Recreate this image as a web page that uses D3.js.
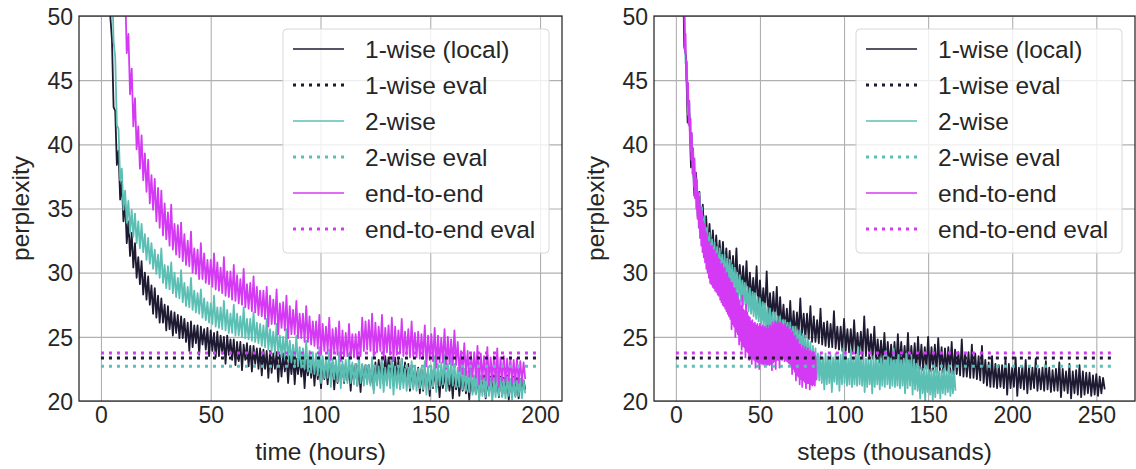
<!DOCTYPE html>
<html>
<head>
<meta charset="utf-8">
<script src="https://cdn.jsdelivr.net/npm/d3@7"></script>
<style>
    body { margin: 0; background: #fff; }
    svg text { font-family: "Liberation Sans", Arial, sans-serif; fill: #262626; }
</style>
</head>
<body>
<div id="chart"></div>
<script>
// ---- data ----
// The training curves are very noisy, so each one is kept as the upper and lower
// edge of its band, read every `step` units; the line runs high -> low -> high ...

// left panel: perplexity vs time (hours), first sample at 2h, every 1.5h
const timeStart = 2, timeStep = 1.5;
const time1wiseHigh = [
    76, 58, 48.2, 42.6, 39.5, 37.1, 35.6, 34.0,
    33.1, 32.3, 31.2, 30.9, 30.0, 29.7, 29.0, 28.8,
    28.2, 28.0, 27.5, 27.4, 27.0, 26.9, 26.7, 26.6,
    26.4, 26.1, 26.2, 25.9, 25.9, 25.8, 25.6, 25.7,
    25.5, 25.3, 25.4, 25.1, 25.0, 25.1, 24.8, 24.8,
    24.6, 24.6, 24.4, 24.5, 24.3, 24.3, 24.1, 24.1,
    24.0, 23.9, 23.9, 23.7, 23.8, 23.6, 23.7, 23.5,
    23.5, 23.6, 23.3, 23.4, 23.3, 23.2, 23.3, 23.2,
    23.1, 23.0, 23.2, 22.9, 23.0, 23.0, 22.8, 22.9,
    22.8, 22.9, 22.7, 22.8, 22.9, 22.7, 22.8, 22.8,
    22.8, 22.9, 23.0, 23.2, 23.4, 23.5, 23.4, 23.4,
    23.4, 23.2, 23.3, 23.0, 22.9, 22.8, 22.7, 22.6,
    22.5, 22.6, 22.3, 22.4, 22.5, 22.2, 22.3, 22.3,
    22.2, 22.1, 22.3, 22.0, 22.1, 22.0, 21.9, 22.1,
    21.9, 22.0, 21.9, 22.0, 21.8, 21.9, 22.0, 21.8,
    21.9, 21.8, 22.0, 21.7, 21.9, 21.8, 21.7, 21.6
];
const time1wiseLow = [
    65, 50, 42.9, 38.4, 35.7, 34.0, 32.3, 31.3,
    30.4, 29.6, 29.1, 28.3, 27.9, 27.5, 26.8, 26.5,
    26.1, 26.1, 25.5, 25.6, 25.1, 25.3, 24.9, 24.9,
    24.6, 23.9, 24.2, 24.5, 23.6, 24.4, 24.0, 23.5,
    23.9, 23.4, 23.5, 23.7, 22.9, 23.6, 23.2, 22.8,
    23.1, 22.4, 23.2, 22.7, 22.3, 22.9, 22.5, 22.0,
    22.5, 21.8, 22.2, 22.5, 21.5, 21.9, 22.3, 21.4,
    22.1, 21.3, 22.1, 21.9, 21.0, 22.0, 21.8, 21.2,
    21.7, 21.0, 21.7, 21.3, 21.6, 20.9, 21.4, 21.5,
    21.4, 21.6, 20.8, 21.5, 21.2, 20.7, 21.4, 21.5,
    21.4, 20.9, 21.5, 21.7, 21.3, 21.9, 22.0, 21.2,
    21.8, 21.0, 21.5, 21.6, 20.8, 21.1, 21.3, 20.6,
    20.8, 21.2, 20.4, 21.0, 21.0, 20.3, 21.0, 20.8,
    20.8, 20.2, 20.9, 20.4, 20.8, 20.6, 20.1, 20.7,
    20.6, 20.3, 20.7, 20.2, 20.6, 20.4, 20.7, 20.3,
    20.4, 20.6, 20.1, 20.5, 20.4, 20.2, 20.7, 20.9
];
const time2wiseHigh = [
    86, 65, 54.1, 46.8, 41.2, 38.1, 36.4, 35.6,
    34.9, 34.6, 34.0, 33.8, 33.0, 32.7, 32.3, 31.8,
    31.4, 31.9, 30.6, 30.5, 30.8, 30.0, 29.6, 30.2,
    29.2, 28.9, 29.6, 28.6, 28.4, 28.7, 28.0, 27.7,
    27.6, 28.2, 27.3, 27.3, 27.8, 27.1, 26.8, 27.5,
    26.8, 26.6, 27.3, 26.4, 26.4, 26.9, 26.1, 26.0,
    25.9, 26.4, 25.6, 25.4, 26.0, 25.1, 25.0, 25.6,
    24.7, 24.4, 25.1, 24.2, 24.1, 24.7, 23.9, 23.8,
    23.7, 24.2, 23.5, 23.4, 24.0, 23.3, 23.2, 23.8,
    23.1, 23.2, 23.7, 23.0, 22.9, 23.6, 22.9, 22.8,
    22.8, 23.4, 22.6, 22.7, 23.3, 22.6, 22.8, 23.2,
    22.7, 22.6, 23.3, 22.5, 22.6, 23.1, 22.7, 22.5,
    22.6, 23.1, 22.7, 22.7, 23.5, 22.9, 23.0, 23.6,
    22.9, 23.4, 22.9, 22.6, 23.2, 22.5, 22.3, 22.8,
    22.0, 22.5, 22.0, 21.8, 22.4, 21.8, 21.8, 22.3,
    21.8, 21.7, 21.9, 21.7, 21.8, 21.6, 21.7, 21.6
];
const time2wiseLow = [
    71, 57, 48.0, 41.5, 37.2, 34.9, 33.9, 33.1,
    32.8, 32.3, 31.9, 31.6, 31.0, 30.7, 30.3, 29.9,
    29.6, 29.2, 28.8, 28.7, 28.4, 28.1, 28.0, 27.7,
    27.4, 27.3, 27.1, 26.9, 26.8, 26.5, 26.3, 26.1,
    26.0, 25.8, 25.7, 25.6, 25.5, 25.3, 25.3, 25.1,
    25.1, 25.0, 24.9, 24.8, 24.7, 24.6, 24.5, 24.3,
    24.2, 24.0, 23.9, 23.7, 23.6, 23.4, 23.3, 23.1,
    23.0, 22.9, 22.7, 22.6, 22.5, 22.3, 22.2, 22.1,
    22.0, 21.4, 21.8, 21.8, 21.1, 21.7, 21.5, 21.0,
    21.5, 21.4, 21.4, 21.3, 21.2, 21.4, 21.2, 21.3,
    21.2, 20.6, 21.2, 21.0, 20.7, 21.2, 21.0, 20.5,
    21.0, 20.9, 21.0, 20.8, 21.0, 20.9, 20.8, 21.0,
    20.9, 20.5, 20.9, 21.1, 20.7, 21.2, 21.3, 20.8,
    21.3, 21.2, 21.1, 21.1, 20.9, 20.8, 20.7, 20.5,
    20.5, 20.0, 20.4, 20.3, 20.4, 19.9, 20.3, 20.4,
    20.3, 20.2, 20.4, 20.1, 20.3, 20.4, 20.2, 20.6
];
const timeE2EHigh = [
    111, 91, 76, 66.5, 59.5, 54.8, 52.2, 48.6,
    45.9, 43.6, 41.4, 40.7, 39.3, 38.8, 37.6, 37.3,
    36.6, 36.4, 35.4, 34.7, 35.3, 33.8, 33.7, 33.9,
    33.0, 32.5, 33.2, 31.9, 31.8, 32.3, 31.5, 31.0,
    31.0, 31.5, 30.8, 30.4, 31.2, 30.1, 30.1, 30.6,
    29.8, 29.5, 30.3, 29.1, 29.2, 29.7, 28.9, 28.6,
    28.6, 28.9, 28.2, 27.9, 28.7, 27.6, 27.7, 28.2,
    27.4, 27.1, 27.8, 26.8, 26.8, 27.4, 26.6, 26.2,
    26.2, 26.7, 26.0, 25.8, 26.5, 25.6, 25.7, 26.2,
    25.5, 25.3, 26.0, 25.2, 25.2, 25.4, 26.5, 26.2,
    26.3, 26.8, 26.1, 25.8, 26.7, 25.7, 25.9, 26.5,
    25.8, 25.5, 26.4, 25.4, 25.6, 26.2, 25.3, 25.4,
    25.2, 25.9, 25.1, 25.2, 25.7, 25.1, 24.9, 25.6,
    25.0, 24.8, 25.5, 24.6, 23.9, 24.5, 23.9, 23.7,
    23.8, 24.3, 23.7, 23.5, 24.2, 23.4, 23.5, 24.1,
    23.4, 23.5, 23.3, 23.4, 23.2, 23.3, 23.1, 23.0
];
const timeE2ELow = [
    99, 80.5, 68.6, 59.6, 53.9, 50.2, 47.1, 43.9,
    41.4, 39.6, 38.1, 37.2, 36.3, 35.4, 34.9, 34.0,
    33.5, 32.9, 32.6, 32.1, 31.8, 31.4, 31.2, 30.9,
    30.6, 30.5, 30.0, 29.9, 29.5, 29.5, 29.2, 29.1,
    28.9, 28.7, 28.6, 28.4, 28.2, 28.1, 27.9, 27.8,
    27.6, 27.5, 27.3, 27.2, 27.0, 26.9, 26.7, 26.6,
    26.4, 25.8, 26.0, 26.0, 25.2, 25.7, 25.5, 24.9,
    25.2, 25.2, 24.9, 24.9, 24.6, 24.6, 24.4, 24.3,
    24.1, 23.6, 23.9, 23.9, 23.2, 23.8, 23.6, 23.1,
    23.5, 23.5, 23.4, 23.4, 23.3, 23.5, 23.9, 24.0,
    23.9, 23.4, 23.8, 23.9, 23.2, 23.8, 23.6, 23.1,
    23.6, 23.7, 23.5, 23.6, 23.4, 23.5, 23.4, 23.3,
    23.3, 22.7, 23.2, 23.1, 22.6, 23.0, 23.0, 22.5,
    22.9, 22.8, 22.8, 22.3, 22.1, 22.0, 21.9, 21.9,
    21.8, 21.3, 21.7, 21.6, 21.2, 21.6, 21.5, 21.1,
    21.6, 21.5, 21.6, 21.4, 21.5, 21.4, 21.5, 21.7
];

// right panel: perplexity vs steps (thousands)
const steps1wiseStart = 2, steps1wiseStep = 2;
const steps1wiseHigh = [
    81, 55.4, 46.9, 42.4, 39.6, 37.8, 36.3, 35.3,
    34.4, 33.8, 33.3, 32.9, 32.5, 32.4, 31.9, 31.7,
    31.3, 31.9, 30.6, 30.5, 30.9, 30.0, 29.6, 30.5,
    29.4, 28.8, 30.1, 28.4, 28.5, 28.9, 28.1, 27.5,
    27.2, 27.8, 27.0, 26.9, 28.0, 26.8, 26.8, 27.4,
    26.6, 26.3, 27.2, 26.1, 26.2, 26.0, 27.0, 25.8,
    25.8, 26.4, 25.6, 25.6, 26.3, 25.3, 25.4, 26.6,
    25.6, 25.2, 25.8, 24.8, 24.7, 25.3, 24.6, 24.4,
    24.6, 25.2, 24.6, 24.3, 25.3, 24.3, 24.5, 25.0,
    24.4, 24.2, 25.0, 24.2, 24.4, 24.9, 24.2, 24.1,
    24.2, 24.6, 24.0, 23.8, 24.8, 23.7, 23.8, 24.4,
    23.7, 23.5, 24.3, 23.2, 23.0, 23.5, 22.9, 22.8,
    22.8, 23.3, 22.9, 22.6, 23.4, 22.6, 22.7, 23.2,
    22.7, 22.6, 23.3, 22.5, 22.6, 23.1, 22.6, 22.4,
    22.5, 23.0, 22.5, 22.3, 22.9, 22.3, 22.4, 22.8,
    22.3, 22.2, 22.2, 22.0, 22.1, 21.9, 21.8
];
const steps1wiseLow = [
    60.5, 47.6, 41.7, 38.2, 36.0, 34.4, 33.3, 32.4,
    31.9, 31.4, 30.9, 30.6, 30.3, 29.9, 29.7, 29.4,
    29.1, 28.8, 28.6, 28.3, 28.0, 27.8, 27.6, 27.3,
    27.1, 26.9, 26.6, 26.4, 26.2, 25.9, 25.8, 25.5,
    25.2, 25.0, 25.1, 25.2, 25.1, 24.9, 24.8, 24.6,
    24.6, 24.5, 24.4, 24.3, 24.2, 24.2, 24.1, 24.0,
    23.9, 23.9, 23.8, 23.7, 23.7, 23.6, 23.5, 23.5,
    23.5, 23.3, 23.1, 23.0, 22.9, 22.8, 22.8, 22.7,
    22.6, 22.7, 22.5, 22.6, 22.4, 22.6, 22.4, 22.5,
    22.4, 22.5, 22.3, 22.4, 22.2, 22.4, 22.2, 22.3,
    22.2, 22.1, 22.1, 22.0, 21.9, 21.9, 21.8, 21.8,
    21.7, 21.6, 21.4, 21.2, 21.1, 21.1, 21.0, 21.1,
    21.0, 20.5, 21.0, 21.1, 20.4, 21.0, 20.9, 20.6,
    20.9, 21.0, 20.8, 20.9, 20.8, 20.9, 20.7, 20.8,
    20.8, 20.3, 20.8, 20.6, 20.2, 20.6, 20.5, 20.3,
    20.5, 20.6, 20.4, 20.5, 20.4, 20.6, 20.9
];
const steps2wiseStart = 2, steps2wiseStep = 1.5;
const steps2wiseHigh = [
    86, 62.2, 51.7, 46.5, 43.2, 40.8, 38.9, 37.3,
    36.2, 35.1, 34.4, 33.5, 33.1, 32.6, 32.4, 32.0,
    31.9, 31.4, 31.4, 31.1, 31.0, 30.6, 30.4, 30.0,
    29.8, 29.4, 29.2, 28.9, 28.8, 28.5, 28.4, 28.1,
    28.0, 27.7, 27.6, 27.3, 27.2, 26.9, 26.9, 26.6,
    26.6, 26.3, 26.3, 26.1, 26.1, 25.8, 25.8, 25.5,
    25.5, 25.2, 25.1, 24.8, 24.6, 24.3, 24.1, 23.7,
    23.6, 23.4, 23.7, 23.5, 23.6, 23.4, 23.7, 23.5,
    23.6, 24.1, 23.6, 23.3, 24.0, 23.4, 23.6, 24.2,
    23.4, 23.5, 23.3, 23.4, 23.2, 23.5, 23.3, 23.4,
    23.3, 23.5, 23.9, 23.4, 23.3, 24.1, 23.2, 23.6,
    23.5, 23.3, 23.7, 23.4, 23.6, 23.2, 22.9, 22.7,
    22.6, 22.5, 22.6, 22.4, 22.5, 22.4, 22.6, 22.3,
    22.4, 22.5, 22.3, 22.5, 22.4, 22.3
];
const steps2wiseLow = [
    68.8, 53.9, 46.3, 42.3, 39.5, 37.5, 35.8, 34.5,
    33.7, 32.9, 32.0, 31.4, 30.9, 30.6, 30.2, 30.0,
    29.8, 29.6, 29.3, 29.2, 28.9, 28.7, 28.3, 28.1,
    27.8, 27.5, 27.2, 27.0, 26.8, 26.6, 26.4, 26.2,
    26.0, 25.8, 25.6, 25.4, 25.2, 25.0, 24.8, 24.7,
    24.5, 24.4, 24.3, 24.2, 24.0, 23.9, 23.7, 23.6,
    23.4, 23.2, 22.9, 22.6, 22.3, 22.0, 21.7, 21.6,
    21.4, 20.9, 21.3, 21.4, 20.7, 21.5, 21.3, 20.8,
    21.3, 21.4, 21.2, 21.3, 21.1, 21.3, 21.2, 21.3,
    21.2, 20.7, 21.1, 21.3, 20.6, 21.1, 21.3, 20.9,
    21.2, 21.1, 21.3, 21.0, 21.2, 21.1, 21.2, 21.0,
    21.2, 20.6, 21.0, 21.2, 20.5, 20.9, 20.8, 20.2,
    20.6, 20.0, 20.7, 20.5, 20.1, 20.3, 20.6, 20.2,
    20.6, 20.5, 20.7, 20.4, 20.6, 20.8
];
const stepsE2EStart = 2, stepsE2EStep = 0.75;
const stepsE2EHigh = [
    86, 71, 61.3, 55.2, 51.2, 48.6, 46.4, 44.8,
    43.4, 42.0, 40.9, 39.7, 38.9, 37.8, 37.2, 36.3,
    35.9, 35.1, 34.8, 34.0, 33.8, 33.2, 33.0, 32.4,
    32.4, 32.0, 32.1, 31.7, 31.8, 31.4, 31.5, 31.1,
    31.0, 30.6, 30.7, 30.3, 30.4, 29.9, 30.0, 29.6,
    29.5, 29.2, 29.2, 28.8, 28.8, 28.4, 28.4, 28.0,
    27.8, 27.4, 28.2, 27.1, 27.0, 27.5, 26.9, 26.6,
    26.5, 26.2, 26.3, 26.0, 26.1, 25.9, 26.0, 25.8,
    26.0, 25.8, 25.9, 25.7, 25.8, 25.6, 25.9, 25.6,
    25.9, 25.8, 26.1, 25.9, 26.2, 26.0, 26.2, 26.0,
    26.1, 25.9, 26.0, 25.8, 26.0, 25.7, 25.8, 25.5,
    25.6, 25.3, 25.4, 25.0, 25.1, 24.7, 24.8, 24.4,
    24.4, 24.1, 24.3, 24.0, 24.2, 23.9, 24.1, 23.8,
    23.9, 23.7, 23.8, 23.6, 23.5
];
const stepsE2ELow = [
    74.8, 63.3, 55.3, 50.7, 47.3, 45.0, 43.1, 41.5,
    40.0, 38.8, 37.7, 36.7, 35.8, 35.0, 34.2, 33.5,
    32.7, 32.1, 31.6, 31.2, 30.8, 30.3, 30.0, 29.6,
    29.2, 29.1, 28.9, 28.8, 28.6, 28.5, 28.3, 28.2,
    27.9, 27.7, 27.5, 27.4, 27.2, 27.0, 26.8, 26.6,
    26.4, 25.6, 26.0, 25.8, 25.0, 25.4, 25.2, 24.4,
    24.7, 24.0, 24.3, 24.2, 23.4, 23.9, 23.8, 23.2,
    23.5, 22.9, 23.3, 23.2, 22.6, 23.1, 23.0, 22.5,
    23.0, 22.9, 22.9, 22.8, 22.9, 22.8, 22.9, 22.8,
    22.9, 22.4, 23.0, 23.1, 22.5, 23.2, 23.2, 22.6,
    23.3, 23.2, 23.3, 23.1, 23.2, 23.1, 23.0, 22.9,
    22.7, 22.1, 22.5, 22.3, 21.6, 22.0, 21.9, 21.3,
    21.7, 21.1, 21.6, 21.5, 21.0, 21.4, 21.4, 20.9,
    21.3, 21.2, 21.3, 21.2, 21.6
];

// eval perplexities (horizontal dotted lines): 1-wise, 2-wise, end-to-end
const evalValues = [23.35, 22.7, 23.75];
const timeEvalEnd = 200, stepsEvalEnd = 260;

const legendLabels = ["1-wise (local)", "1-wise eval", "2-wise", "2-wise eval", "end-to-end", "end-to-end eval"];
const seriesColors = ["#1e1a32", "#5bbfb4", "#d43af3"];
const yTicks = [20, 25, 30, 35, 40, 45, 50];
const timeTicks = [0, 50, 100, 150, 200];
const stepTicks = [0, 50, 100, 150, 200, 250];


class PerplexityPanel {
    constructor(_svg, _opts) {
        this.svg = _svg;
        this.opts = _opts;
        this.initVis();
    }

    initVis() {
        let vis = this;
        let o = vis.opts;
        vis.top = 16;
        vis.bottom = 401;

        vis.x = d3.scaleLinear().domain(o.xDomain).range([o.left, o.right]);
        vis.y = d3.scaleLinear().domain([20, 50]).range([vis.bottom, vis.top]);

        vis.g = vis.svg.append("g");

        vis.g.append("clipPath").attr("id", o.id + "-clip")
            .append("rect")
            .attr("x", o.left).attr("y", vis.top)
            .attr("width", o.right - o.left).attr("height", vis.bottom - vis.top);

        // grid + tick labels
        let xAxis = d3.axisBottom(vis.x).tickValues(o.xTicks)
            .tickSize(-(vis.bottom - vis.top)).tickPadding(6);
        vis.g.append("g")
            .attr("transform", "translate(0," + vis.bottom + ")")
            .call(xAxis)
            .call(g => g.select(".domain").remove())
            .call(g => g.selectAll("line").attr("stroke", "#b0b0b0").attr("stroke-width", 1.1))
            .call(g => g.selectAll("text").style("font-size", "23px").attr("fill", "#262626"));

        let yAxis = d3.axisLeft(vis.y).tickValues(yTicks)
            .tickSize(-(o.right - o.left)).tickPadding(6);
        vis.g.append("g")
            .attr("transform", "translate(" + o.left + ",0)")
            .call(yAxis)
            .call(g => g.select(".domain").remove())
            .call(g => g.selectAll("line").attr("stroke", "#b0b0b0").attr("stroke-width", 1.1))
            .call(g => g.selectAll("text").style("font-size", "23px").attr("fill", "#262626").attr("dy", "0.36em"));

        vis.wrangleData();
    }

    wrangleData() {
        let vis = this;
        // weave the high/low edges into one jagged line: high at x, low half a step later
        vis.lines = vis.opts.series.map((s, i) => {
            let points = [];
            s.high.forEach((v, j) => {
                let x = s.start + j * s.step;
                points.push({ x: x, y: v });
                points.push({ x: x + s.step / 2, y: s.low[j] });
            });
            return { color: seriesColors[i], points: points };
        });
        vis.evals = evalValues.map((v, i) => ({ color: seriesColors[i], value: v }));
        vis.updateVis();
    }

    updateVis() {
        let vis = this;
        let o = vis.opts;

        let line = d3.line().x(d => vis.x(d.x)).y(d => vis.y(d.y));

        let plot = vis.g.append("g").attr("clip-path", "url(#" + o.id + "-clip)");

        plot.selectAll(".run")
            .data(vis.lines)
            .enter().append("path")
            .attr("class", "run")
            .attr("d", d => line(d.points))
            .attr("fill", "none")
            .attr("stroke", d => d.color)
            .attr("stroke-width", 1.8)
            .attr("stroke-linejoin", "round");

        // eval lines, drawn on top
        let evalOrder = [2, 0, 1];
        plot.selectAll(".eval")
            .data(evalOrder.map(i => vis.evals[i]))
            .enter().append("line")
            .attr("class", "eval")
            .attr("x1", vis.x(0)).attr("x2", vis.x(o.evalEnd))
            .attr("y1", d => vis.y(d.value)).attr("y2", d => vis.y(d.value))
            .attr("stroke", d => d.color)
            .attr("stroke-width", 3)
            .attr("stroke-dasharray", "3,5");

        // frame
        vis.g.append("rect")
            .attr("x", o.left).attr("y", vis.top)
            .attr("width", o.right - o.left).attr("height", vis.bottom - vis.top)
            .attr("fill", "none").attr("stroke", "#262626").attr("stroke-width", 1.25);

        // axis labels
        vis.g.append("text")
            .attr("x", (o.left + o.right) / 2).attr("y", 460)
            .attr("text-anchor", "middle")
            .style("font-size", "24.5px")
            .text(o.xLabel);
        vis.g.append("text")
            .attr("transform", "translate(" + o.yLabelX + "," + (vis.top + vis.bottom) / 2 + ") rotate(-90)")
            .attr("text-anchor", "middle")
            .style("font-size", "24.5px")
            .text("perplexity");

        // legend
        let lx = o.right - 13 - 266, ly = 29;
        let leg = vis.g.append("g").attr("transform", "translate(" + lx + "," + ly + ")");
        leg.append("rect")
            .attr("width", 266).attr("height", 224).attr("rx", 4)
            .attr("fill", "white").attr("fill-opacity", 0.8)
            .attr("stroke", "#d8d8d8").attr("stroke-width", 1);

        let items = leg.selectAll(".item")
            .data(legendLabels)
            .enter().append("g")
            .attr("class", "item")
            .attr("transform", (d, i) => "translate(0," + (20 + i * 36) + ")");
        items.append("line")
            .attr("x1", 10).attr("x2", 61)
            .attr("stroke", (d, i) => seriesColors[Math.floor(i / 2)])
            .attr("stroke-width", (d, i) => i % 2 ? 3 : 1.5)
            .attr("stroke-dasharray", (d, i) => i % 2 ? "3,5" : null);
        items.append("text")
            .attr("x", 82).attr("dy", "0.35em")
            .style("font-size", "24.5px")
            .text(d => d);
    }
}

let svg = d3.select("#chart").append("svg")
    .attr("width", 1136).attr("height", 469);

new PerplexityPanel(svg, {
    id: "time", left: 79, right: 562, xDomain: [-10, 210],
    xTicks: timeTicks, xLabel: "time (hours)", yLabelX: 29, evalEnd: timeEvalEnd,
    series: [
        { high: time1wiseHigh, low: time1wiseLow, start: timeStart, step: timeStep },
        { high: time2wiseHigh, low: time2wiseLow, start: timeStart, step: timeStep },
        { high: timeE2EHigh, low: timeE2ELow, start: timeStart, step: timeStep }
    ]
});

new PerplexityPanel(svg, {
    id: "steps", left: 654, right: 1135, xDomain: [-13, 273],
    xTicks: stepTicks, xLabel: "steps (thousands)", yLabelX: 604, evalEnd: stepsEvalEnd,
    series: [
        { high: steps1wiseHigh, low: steps1wiseLow, start: steps1wiseStart, step: steps1wiseStep },
        { high: steps2wiseHigh, low: steps2wiseLow, start: steps2wiseStart, step: steps2wiseStep },
        { high: stepsE2EHigh, low: stepsE2ELow, start: stepsE2EStart, step: stepsE2EStep }
    ]
});
</script>
</body>
</html>
